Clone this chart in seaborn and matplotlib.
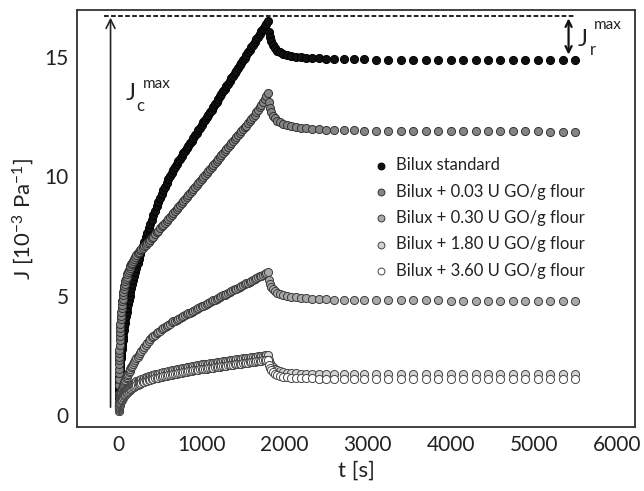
import matplotlib
matplotlib.use("Agg")
import matplotlib.pyplot as plt
import seaborn as sns
import pandas as pd

# ---------------- data ----------------
t_creep = [0, 1, 2, 3, 4, 5, 6, 7, 8, 9, 10, 12, 14, 16, 18, 20, 23, 26, 29, 32,
           36, 40, 44, 48, 53, 58, 64, 70, 76, 83, 90, 98, 106, 115, 124, 134, 144,
           155, 166, 178, 190, 203, 216, 230, 245, 260, 276, 292, 309, 326, 344, 362,
           381,
           400, 420, 440, 460, 480, 500, 520, 540, 560, 580, 600, 620, 640, 660, 680,
           700, 720, 740, 760, 780, 800, 820, 840, 860, 880, 900, 920, 940, 960, 980,
           1000, 1020, 1040, 1060, 1080, 1100, 1120, 1140, 1160, 1180, 1200, 1220,
           1240, 1260, 1280, 1300, 1320, 1340, 1360, 1380, 1400, 1420, 1440, 1460,
           1480, 1500, 1520, 1540, 1560, 1580, 1600, 1620, 1640, 1660, 1680, 1700,
           1720, 1740, 1760, 1780, 1800]
t_recovery = [1808, 1820, 1835, 1855, 1880, 1910, 1945, 1985, 2030, 2080, 2135, 2195,
              2260, 2330, 2410, 2500, 2600, 2710, 2830, 2960, 3100, 3250, 3400, 3550,
              3700, 3850, 4000, 4150, 4300, 4450, 4600, 4750, 4900, 5050, 5200, 5350,
              5500]

J_standard_creep = [0.2, 0.68, 0.86, 1.0, 1.12, 1.22, 1.31, 1.39, 1.47, 1.54, 1.61,
                    1.74, 1.85, 1.96, 2.06, 2.15, 2.29, 2.41, 2.53, 2.64, 2.78, 2.91,
                    3.03, 3.15, 3.29, 3.42, 3.58, 3.72, 3.86, 4.01, 4.16, 4.32, 4.48,
                    4.65, 4.81, 4.98, 5.14, 5.32, 5.48, 5.66, 5.83, 6.01, 6.18, 6.36,
                    6.54, 6.73, 6.91, 7.09, 7.27, 7.45, 7.64, 7.82, 8.01,
                    8.19, 8.38, 8.56, 8.74, 8.91, 9.08, 9.25, 9.41, 9.57, 9.72, 9.87,
                    10.01, 10.15, 10.28, 10.4, 10.52, 10.63, 10.74, 10.85, 10.96, 11.06,
                    11.17, 11.28, 11.39, 11.5, 11.61, 11.72, 11.83, 11.93, 12.04, 12.15,
                    12.26, 12.37, 12.48, 12.59, 12.69, 12.8, 12.91, 13.02, 13.13, 13.24,
                    13.35, 13.46, 13.56, 13.67, 13.78, 13.89, 14.0, 14.11, 14.22, 14.33,
                    14.43, 14.54, 14.65, 14.76, 14.87, 14.98, 15.09, 15.2, 15.3, 15.41,
                    15.52, 15.63, 15.74, 15.85, 15.96, 16.07, 16.17, 16.28, 16.39, 16.5]
J_standard_rec = [16.05, 15.85, 15.66, 15.5, 15.37, 15.27, 15.19, 15.13, 15.08, 15.04,
                  15.01, 14.99, 14.97, 14.95, 14.94, 14.93, 14.92, 14.91, 14.9, 14.9,
                  14.89, 14.89, 14.89, 14.88, 14.88, 14.88, 14.88, 14.88, 14.88, 14.87,
                  14.87, 14.87, 14.87, 14.87, 14.87, 14.87, 14.87]

J_003_creep = [0.2, 0.9, 1.25, 1.52, 1.75, 1.95, 2.13, 2.29, 2.44, 2.58, 2.71, 2.94,
               3.14, 3.32, 3.48, 3.63, 3.83, 4.01, 4.17, 4.31, 4.48, 4.63, 4.76, 4.88,
               5.02, 5.14, 5.27, 5.39, 5.49, 5.6, 5.7, 5.8, 5.89, 5.98, 6.07, 6.15,
               6.23, 6.31, 6.39, 6.47, 6.55, 6.63, 6.7, 6.77, 6.84, 6.9, 6.96, 7.02,
               7.08, 7.14, 7.2, 7.27, 7.34,
               7.4, 7.48, 7.57, 7.65, 7.73, 7.82, 7.9, 7.98, 8.06, 8.15, 8.23, 8.31,
               8.4, 8.48, 8.56, 8.65, 8.73, 8.81, 8.89, 8.98, 9.06, 9.14, 9.23, 9.31,
               9.39, 9.48, 9.56, 9.64, 9.72, 9.81, 9.89, 9.97, 10.06, 10.14, 10.22,
               10.31, 10.39, 10.47, 10.55, 10.64, 10.72, 10.8, 10.89, 10.97, 11.05,
               11.14, 11.22, 11.3, 11.38, 11.47, 11.55, 11.63, 11.72, 11.8, 11.88,
               11.97, 12.05, 12.13, 12.22, 12.3, 12.39, 12.48, 12.58, 12.68, 12.78,
               12.89, 13.0, 13.11, 13.23, 13.36, 13.5]
J_003_rec = [13.1, 12.88, 12.7, 12.55, 12.43, 12.34, 12.26, 12.2, 12.15, 12.11, 12.07,
             12.04, 12.02, 12.0, 11.98, 11.96, 11.95, 11.94, 11.93, 11.92, 11.91, 11.91,
             11.9, 11.9, 11.9, 11.89, 11.89, 11.89, 11.89, 11.88, 11.88, 11.88, 11.88,
             11.88, 11.87, 11.87, 11.87]

J_030_creep = [0.15, 0.28, 0.34, 0.39, 0.43, 0.47, 0.5, 0.53, 0.56, 0.59, 0.61, 0.66,
               0.7, 0.74, 0.78, 0.81, 0.86, 0.9, 0.94, 0.98, 1.03, 1.08, 1.12, 1.16,
               1.21, 1.26, 1.32, 1.37, 1.42, 1.48, 1.54, 1.6, 1.66, 1.73, 1.79, 1.86,
               1.93, 2.0, 2.07, 2.15, 2.22, 2.3, 2.37, 2.45, 2.53, 2.61, 2.69, 2.77,
               2.85, 2.93, 3.01, 3.09, 3.17,
               3.25, 3.31, 3.37, 3.43, 3.48, 3.54, 3.59, 3.64, 3.69, 3.74, 3.79, 3.83,
               3.88, 3.92, 3.96, 4.0, 4.04, 4.08, 4.11, 4.15, 4.19, 4.22, 4.26, 4.29,
               4.33, 4.37, 4.4, 4.44, 4.47, 4.51, 4.55, 4.58, 4.62, 4.65, 4.69, 4.73,
               4.76, 4.8, 4.83, 4.87, 4.91, 4.94, 4.98, 5.01, 5.05, 5.09, 5.12, 5.16,
               5.19, 5.23, 5.27, 5.3, 5.34, 5.37, 5.41, 5.45, 5.48, 5.52, 5.55, 5.59,
               5.63, 5.66, 5.7, 5.73, 5.77, 5.81, 5.84, 5.88, 5.91, 5.95, 5.99]
J_030_rec = [5.65, 5.5, 5.38, 5.28, 5.2, 5.13, 5.08, 5.03, 4.99, 4.96, 4.93, 4.91, 4.89,
             4.87, 4.86, 4.85, 4.84, 4.83, 4.82, 4.81, 4.81, 4.81, 4.8, 4.8, 4.8, 4.8,
             4.79, 4.79, 4.79, 4.79, 4.79, 4.78, 4.78, 4.78, 4.78, 4.78, 4.78]

J_180_creep = [0.2, 0.28, 0.32, 0.35, 0.38, 0.4, 0.42, 0.44, 0.46, 0.48, 0.49, 0.52,
               0.55, 0.57, 0.59, 0.62, 0.65, 0.67, 0.7, 0.72, 0.76, 0.78, 0.81, 0.84,
               0.87, 0.9, 0.93, 0.96, 0.99, 1.02, 1.05, 1.08, 1.11, 1.14, 1.17, 1.2,
               1.23, 1.26, 1.29, 1.32, 1.35, 1.38, 1.41, 1.43, 1.46, 1.48, 1.51, 1.53,
               1.55, 1.58, 1.6, 1.62, 1.64,
               1.66, 1.68, 1.7, 1.72, 1.74, 1.76, 1.77, 1.79, 1.81, 1.82, 1.84, 1.86,
               1.87, 1.89, 1.9, 1.92, 1.93, 1.95, 1.96, 1.97, 1.99, 2.0, 2.02, 2.03,
               2.04, 2.05, 2.07, 2.08, 2.09, 2.1, 2.12, 2.13, 2.14, 2.15, 2.16, 2.17,
               2.18, 2.19, 2.2, 2.21, 2.22, 2.23, 2.24, 2.25, 2.26, 2.27, 2.28, 2.29,
               2.3, 2.31, 2.32, 2.33, 2.34, 2.35, 2.36, 2.37, 2.38, 2.39, 2.4, 2.41,
               2.42, 2.43, 2.44, 2.45, 2.46, 2.47, 2.48, 2.49, 2.5, 2.51, 2.52]
J_180_rec = [2.3, 2.18, 2.08, 2.0, 1.93, 1.88, 1.84, 1.81, 1.78, 1.76, 1.75, 1.74, 1.73,
             1.73, 1.72, 1.72, 1.72, 1.71, 1.71, 1.71, 1.71, 1.71, 1.7, 1.7, 1.7, 1.7,
             1.7, 1.7, 1.7, 1.7, 1.7, 1.7, 1.7, 1.7, 1.7, 1.7, 1.7]

J_360_creep = [0.15, 0.22, 0.26, 0.29, 0.31, 0.33, 0.35, 0.37, 0.38, 0.4, 0.41, 0.44,
               0.46, 0.48, 0.5, 0.52, 0.55, 0.57, 0.6, 0.62, 0.64, 0.67, 0.69, 0.72,
               0.74, 0.77, 0.8, 0.83, 0.85, 0.88, 0.91, 0.94, 0.97, 1.0, 1.02, 1.05,
               1.08, 1.11, 1.14, 1.17, 1.19, 1.22, 1.25, 1.27, 1.3, 1.32, 1.35, 1.37,
               1.39, 1.41, 1.44, 1.46, 1.48,
               1.5, 1.52, 1.54, 1.55, 1.57, 1.59, 1.6, 1.62, 1.63, 1.65, 1.66, 1.68,
               1.69, 1.71, 1.72, 1.74, 1.75, 1.76, 1.78, 1.79, 1.8, 1.82, 1.83, 1.84,
               1.85, 1.87, 1.88, 1.89, 1.9, 1.91, 1.92, 1.93, 1.94, 1.95, 1.96, 1.97,
               1.98, 1.99, 2.0, 2.01, 2.02, 2.03, 2.04, 2.05, 2.06, 2.07, 2.08, 2.09,
               2.1, 2.11, 2.12, 2.13, 2.14, 2.15, 2.16, 2.17, 2.18, 2.19, 2.2, 2.21,
               2.22, 2.23, 2.24, 2.25, 2.26, 2.27, 2.28, 2.29, 2.3, 2.31, 2.32]
J_360_rec = [2.1, 1.98, 1.88, 1.8, 1.73, 1.68, 1.64, 1.61, 1.59, 1.57, 1.56, 1.55, 1.54,
             1.54, 1.53, 1.53, 1.53, 1.52, 1.52, 1.52, 1.52, 1.52, 1.52, 1.51, 1.51,
             1.51, 1.51, 1.51, 1.51, 1.51, 1.51, 1.51, 1.51, 1.51, 1.51, 1.51, 1.51]

series_labels = ["Bilux standard", "Bilux + 0.03 U GO/g flour", "Bilux + 0.30 U GO/g flour",
                 "Bilux + 1.80 U GO/g flour", "Bilux + 3.60 U GO/g flour"]
series_creep = [J_standard_creep, J_003_creep, J_030_creep, J_180_creep, J_360_creep]
series_rec = [J_standard_rec, J_003_rec, J_030_rec, J_180_rec, J_360_rec]

# annotation values
J_max_level = 16.7
Jc_arrow_t = -96
Jc_arrow_bottom = 0.33
Jr_arrow_t = 5420
Jr_arrow_bottom = 15.1

for c, r in zip(series_creep, series_rec):
    if len(c) != len(t_creep) or len(r) != len(t_recovery):
        raise ValueError(f"length mismatch {len(c)} {len(t_creep)} {len(r)} {len(t_recovery)}")

# ---------------- styling ----------------
face_colors = ["#111111", "#858585", "#a9a9a9", "#d2d2d2", "#ffffff"]
edge_colors = ["#000000", "#333333", "#3a3a3a", "#444444", "#444444"]

sns.set_theme(style="white")
plt.rcParams["font.family"] = ["Lato", "DejaVu Sans"]
plt.rcParams["mathtext.fontset"] = "custom"
plt.rcParams["mathtext.rm"] = "Lato"
plt.rcParams["mathtext.it"] = "Lato:italic"

rows = []
for lab, c, r in zip(series_labels, series_creep, series_rec):
    for tt, jj in zip(t_creep + t_recovery, c + r):
        rows.append((lab, tt, jj))
df = pd.DataFrame(rows, columns=["series", "t", "J"])

fig = plt.figure(figsize=(6.44, 4.91), dpi=100)
ax = fig.add_axes([77 / 644, 1 - 427 / 491, 558 / 644, 417 / 491])

for i, lab in enumerate(series_labels):
    sub = df[df["series"] == lab]
    sns.scatterplot(data=sub, x="t", y="J", ax=ax, s=34, color=face_colors[i],
                    edgecolor=edge_colors[i], linewidth=0.7, label=lab, zorder=3 + i)

ax.set_xlim(-500, 6220)
ax.set_ylim(-0.5, 16.97)
ax.set_xticks([0, 1000, 2000, 3000, 4000, 5000, 6000])
ax.set_xticks([500, 1500, 2500, 3500, 4500, 5500], minor=True)
ax.set_yticks([0, 5, 10, 15])
ax.set_yticks([2.5, 7.5, 12.5], minor=True)
ax.tick_params(axis="both", which="major", direction="in", length=10, width=1.2,
               color="#333333", labelsize=15, pad=6, labelcolor="#222222")
ax.tick_params(axis="both", which="minor", direction="in", length=6, width=1.2,
               color="#333333")
ax.tick_params(top=False, right=False, which="both")
for sp in ax.spines.values():
    sp.set_color("#333333")
    sp.set_linewidth(1.3)

ax.set_xlabel("t [s]", fontsize=16, color="#222222", labelpad=4)
ax.set_ylabel(r"J [10$^{\mathregular{-3}}$ Pa$^{\mathregular{-1}}$]", fontsize=16,
              color="#222222", labelpad=6)

# dashed J max line and arrows
ax.plot([-180, 5500], [J_max_level, J_max_level], color="#111111", lw=1.3,
        ls=(0, (2.6, 1.3)), zorder=2)
ax.annotate("", xy=(Jc_arrow_t, J_max_level - 0.05), xytext=(Jc_arrow_t, Jc_arrow_bottom),
            arrowprops=dict(arrowstyle="->", color="#222222", lw=1.2, shrinkA=0,
                            shrinkB=0, mutation_scale=16))
ax.annotate("", xy=(Jr_arrow_t, J_max_level - 0.08), xytext=(Jr_arrow_t, Jr_arrow_bottom),
            arrowprops=dict(arrowstyle="<->", color="#111111", lw=1.6, shrinkA=0,
                            shrinkB=0, mutation_scale=11))

# J_c^max text
ax.text(84, 13.18, "J", fontsize=17, color="#222222")
ax.text(210, 12.75, "c", fontsize=12, color="#222222")
ax.text(292, 13.72, "max", fontsize=11, color="#222222")
# J_r^max text
ax.text(5530, 15.48, "J", fontsize=17, color="#222222")
ax.text(5672, 15.1, "r", fontsize=12, color="#222222")
ax.text(5730, 16.19, "max", fontsize=11, color="#222222")

leg = ax.legend(frameon=False, fontsize=12, loc="upper left",
                bbox_to_anchor=(0.529, 0.647), handletextpad=0.4, labelspacing=0.62,
                markerscale=0.85, borderpad=0, handlelength=1.0, borderaxespad=0)
for txt in leg.get_texts():
    txt.set_color("#222222")

fig.savefig("out.png", dpi=100)
